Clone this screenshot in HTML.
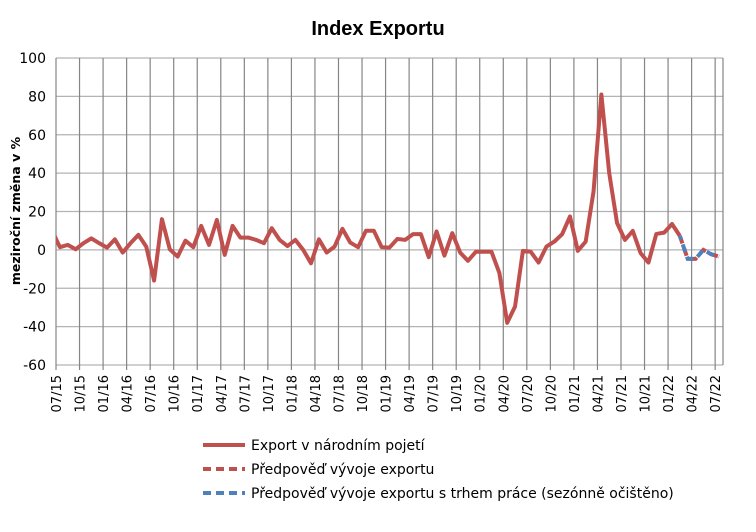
<!DOCTYPE html>
<html><head><meta charset="utf-8"><style>
body{margin:0;background:#fff;}
svg text{font-family:"DejaVu Sans",sans-serif;}
</style></head><body>
<svg id="chart" width="756" height="527" viewBox="0 0 756 527" xmlns="http://www.w3.org/2000/svg">
<rect x="0" y="0" width="756" height="527" fill="#fff"/>
<text x="378" y="35" text-anchor="middle" font-size="20" font-weight="bold" style="font-family:'Liberation Sans',sans-serif">Index Exportu</text>
<text transform="translate(20,211) rotate(-90)" text-anchor="middle" font-size="12.5" font-weight="bold">meziroční změna v %</text>
<defs><clipPath id="plotclip"><rect x="56" y="50" width="668" height="320"/></clipPath></defs>
<g id="grid"></g>
<g id="series" clip-path="url(#plotclip)"></g>
<g id="ylabels"></g>
<g id="xlabels"></g>
<g id="legend">
<line x1="203" y1="445" x2="245" y2="445" stroke="#c0504d" stroke-width="4"/>
<text x="251" y="450" font-size="14">Export v národním pojetí</text>
<line x1="203" y1="469" x2="245" y2="469" stroke="#c0504d" stroke-width="4" stroke-dasharray="8,5"/>
<text x="251" y="474" font-size="14">Předpověď vývoje exportu</text>
<line x1="203" y1="493" x2="245" y2="493" stroke="#4f81bd" stroke-width="4" stroke-dasharray="8,5"/>
<text x="251" y="498" font-size="14">Předpověď vývoje exportu s trhem práce (sezónně očištěno)</text>
</g>
</svg>
<script>
const categoryStart = -1; // 06/15 index (clipped), 0 = 07/15
const exportValues = [10,1.4,2.6,0.3,3.5,6,3.5,1.2,5.5,-1.4,3.5,7.8,1.7,-16,16,0.3,-3.5,4.8,1.4,12.5,2.6,15.6,-2.6,12.5,6.4,6.4,5.2,3.5,11.3,5.2,2,5.2,0,-7,5.5,-1.4,1.7,11,3.8,1.4,10,10,1.4,1.2,5.7,5.2,8.2,8.2,-3.8,9.6,-3,8.7,-1.4,-5.7,-1,-1,-1,-12,-38,-29.5,-0.5,-1,-6.6,1.7,4.3,8.2,17.4,-0.5,4.3,30.4,81,40,14,5.2,9.9,-1.7,-6.6,8.3,9,13.5,7.3];
const forecastStartIndex = 79;
const forecastValues = [7.3,-4.7,-4.7,0,-2.3,-3.5];
const forecastSaValues = [7.3,-4.7,-4.7,0,-2.3,-3.5];
const yTicks = [100,80,60,40,20,0,-20,-40,-60];
const xTickLabels = ["07/15","10/15","01/16","04/16","07/16","10/16","01/17","04/17","07/17","10/17","01/18","04/18","07/18","10/18","01/19","04/19","07/19","10/19","01/20","04/20","07/20","10/20","01/21","04/21","07/21","10/21","01/22","04/22","07/22"];

const NS="http://www.w3.org/2000/svg";
const L=56,R=723,T=58,B=365,N=85;
const step=(R-L)/N;
const xs=i=>L+(i+0.5)*step;
const ys=v=>T+(100-v)*(B-T)/160;
function mk(tag,attrs,parent){const e=document.createElementNS(NS,tag);for(const k in attrs)e.setAttribute(k,attrs[k]);parent.appendChild(e);return e;}
const grid=document.getElementById('grid');
yTicks.forEach(v=>{
  const l=mk('line',{x1:L,x2:R,y1:ys(v),y2:ys(v),stroke:'#b3b3b3','stroke-width':1.2},grid);
  
  
  const t=mk('text',{x:46,y:ys(v)+5,'text-anchor':'end','font-size':14},document.getElementById('ylabels'));
  t.textContent=v;
  
  
});
xTickLabels.forEach((lab,k)=>{
  const x=L+k*3*step;
  const l=mk('line',{x1:x,x2:x,y1:T,y2:B+5,stroke:'#858585','stroke-width':1.2},grid);
  
  
  const t=mk('text',{transform:`translate(${x+5},${B+10}) rotate(-90)`,'text-anchor':'end','font-size':13},document.getElementById('xlabels'));
  t.textContent=lab;
  
  
});
mk('line',{x1:R,x2:R,y1:T,y2:B,stroke:'#858585','stroke-width':1.2},grid);
const s=document.getElementById('series');
const pts=exportValues.map((v,j)=>xs(j+categoryStart)+','+ys(v)).join(' ');
const p1=mk('polyline',{points:pts,fill:'none',stroke:'#c0504d','stroke-width':4,'stroke-linejoin':'round'},s);


const fp=forecastValues.map((v,j)=>xs(forecastStartIndex+j)+','+ys(v)).join(' ');
const p2=mk('polyline',{points:fp,fill:'none',stroke:'#c0504d','stroke-width':4,'stroke-dasharray':'8,5'},s);


const fs=forecastSaValues.map((v,j)=>xs(forecastStartIndex+j)+','+ys(v)).join(' ');
const p3=mk('polyline',{points:fs,fill:'none',stroke:'#4f81bd','stroke-width':4,'stroke-dasharray':'8,5','stroke-dashoffset':4},s);


</script>
</body></html>
